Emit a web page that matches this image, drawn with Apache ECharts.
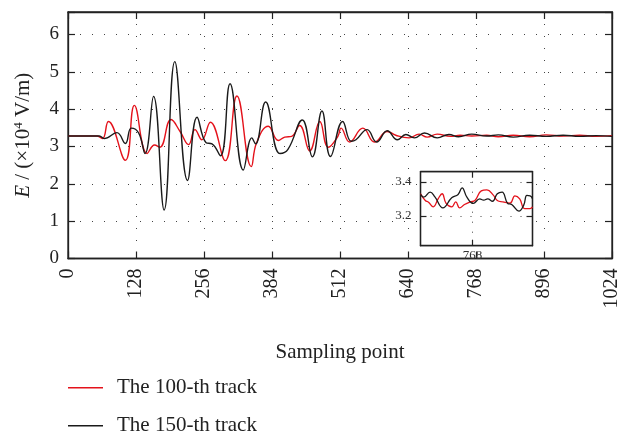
<!DOCTYPE html>
<html>
<head>
<meta charset="utf-8">
<script src="https://cdn.jsdelivr.net/npm/echarts@6/dist/echarts.min.js"></script>
<style>
html,body{margin:0;padding:0;background:#fff;}
#chart{width:622px;height:434px;}
</style>
</head>
<body>
<div id="chart"></div>
<script>
// ---- data ----
var xTicks = [0, 128, 256, 384, 512, 640, 768, 896, 1024];
var yTicks = [0, 1, 2, 3, 4, 5, 6];
var seriesNames = ['The 100-th track', 'The 150-th track'];

var redX = [0, 55, 65, 76, 108, 125, 149, 163, 173, 194, 211, 227, 239, 252, 268, 296, 318, 345, 355, 377, 396, 408, 421, 436, 455, 474, 490, 508, 514, 530, 555, 577, 601, 617, 642, 661, 676, 695, 720, 738, 760, 788, 810, 838, 869, 900, 932, 963, 994, 1024];
var redY = [3.28, 3.28, 3.21, 3.67, 2.63, 4.10, 2.81, 3.04, 2.98, 3.72, 3.40, 3.05, 3.45, 3.18, 3.65, 2.62, 4.35, 2.46, 3.10, 3.54, 3.16, 3.25, 3.27, 3.56, 2.88, 3.67, 2.98, 3.27, 3.49, 3.12, 3.49, 3.12, 3.40, 3.30, 3.23, 3.33, 3.25, 3.33, 3.27, 3.30, 3.28, 3.30, 3.26, 3.30, 3.26, 3.31, 3.28, 3.30, 3.27, 3.29];

var blackX = [0, 59, 68, 92, 108, 119, 133, 145, 161, 181, 201, 225, 243, 260, 271, 287, 305, 330, 346, 353, 372, 399, 414, 441, 460, 478, 494, 517, 533, 542, 563, 581, 601, 620, 636, 652, 671, 695, 717, 735, 760, 788, 810, 838, 869, 900, 932, 963, 994, 1024];
var blackY = [3.28, 3.28, 3.21, 3.37, 3.08, 3.49, 3.36, 2.81, 4.34, 1.30, 5.27, 2.09, 3.78, 3.10, 3.07, 2.75, 4.68, 2.37, 3.23, 3.07, 4.19, 2.81, 2.92, 3.71, 2.72, 3.95, 2.73, 3.67, 3.14, 3.18, 3.45, 3.12, 3.42, 3.18, 3.32, 3.23, 3.36, 3.23, 3.32, 3.26, 3.33, 3.28, 3.31, 3.25, 3.30, 3.27, 3.30, 3.27, 3.29, 3.27];

// inset (zoom around sample 768)
var insetXTicks = [768];
var insetYTicks = [3.2, 3.4];
var insetRedX = [703, 709, 713, 719, 725, 730, 735, 742, 747, 752, 758, 765, 771, 779, 786, 794, 799, 806, 815, 821, 827, 833, 840, 843];
var insetRedY = [3.33, 3.29, 3.28, 3.253, 3.30, 3.33, 3.273, 3.253, 3.282, 3.247, 3.267, 3.282, 3.29, 3.347, 3.353, 3.322, 3.29, 3.282, 3.275, 3.318, 3.30, 3.243, 3.243, 3.253];
var insetBlackX = [703, 707, 715, 721, 731, 742, 750, 755, 761, 769, 777, 782, 787, 793, 799, 805, 812, 817, 826, 832, 836, 840, 843];
var insetBlackY = [3.326, 3.31, 3.34, 3.312, 3.247, 3.306, 3.326, 3.365, 3.31, 3.273, 3.30, 3.292, 3.30, 3.286, 3.33, 3.34, 3.273, 3.267, 3.228, 3.263, 3.32, 3.318, 3.30];

function pairs(xs, ys) { return xs.map(function (x, i) { return [x, ys[i]]; }); }

var FONT = '"Liberation Serif", "DejaVu Serif", serif';
var RED = '#e4121b';
var BLACK = '#1a1a1a';
var dotted = { color: '#444', width: 1, type: [1, 11] };

var chart = echarts.init(document.getElementById('chart'), null, { renderer: 'canvas' });

function legendAt(name, top) {
  return {
    orient: 'vertical',
    left: 68,
    top: top,
    padding: 0,
    itemWidth: 35,
    itemHeight: 1.5,
    icon: 'rect',
    textStyle: { fontFamily: FONT, fontSize: 21, color: '#222', lineHeight: 22, padding: [0, 0, 0, 9] },
    data: [name]
  };
}

var option = {
  animation: false,
  backgroundColor: '#fff',
  textStyle: { fontFamily: FONT },
  grid: [
    { left: 68, right: 6, top: 12, height: 246.5, show: true, borderColor: '#222', borderWidth: 1.3, backgroundColor: 'transparent', containLabel: false },
    { left: 420.5, top: 171.7, width: 112, height: 74, show: true, borderColor: '#222', borderWidth: 1.3, backgroundColor: '#fff', z: 5, containLabel: false }
  ],
  legend: [legendAt(seriesNames[0], 376.7), legendAt(seriesNames[1], 414.7)],
  xAxis: [
    {
      gridIndex: 0, type: 'value', min: xTicks[0], max: xTicks[xTicks.length - 1], interval: 128,
      position: 'bottom',
      name: 'Sampling point', nameLocation: 'middle', nameGap: 83,
      nameTextStyle: { fontFamily: FONT, fontSize: 21, color: '#222' },
      axisLine: { show: true, onZero: false, lineStyle: { color: '#222', width: 1.3 } },
      axisTick: { show: true, inside: true, length: 7, lineStyle: { color: '#222', width: 1.2 } },
      axisLabel: { rotate: 90, margin: 10, fontSize: 20, color: '#222', fontFamily: FONT, showMinLabel: true, showMaxLabel: true,
        formatter: function (v) { return String(v); } },
      splitLine: { show: true, lineStyle: dotted }
    },
    {
      gridIndex: 0, type: 'value', min: xTicks[0], max: xTicks[xTicks.length - 1], interval: 128,
      position: 'top',
      axisLine: { show: true, onZero: false, lineStyle: { color: '#222', width: 1.3 } },
      axisTick: { show: true, inside: true, length: 7, lineStyle: { color: '#222', width: 1.2 } },
      axisLabel: { show: false },
      splitLine: { show: false }
    },
    {
      gridIndex: 1, type: 'value', min: 703, max: 843, z: 6,
      position: 'bottom',
      axisLine: { show: true, onZero: false, lineStyle: { color: '#222', width: 1.3 } },
      axisTick: { show: true, inside: true, length: 6, customValues: insetXTicks, lineStyle: { color: '#222', width: 1.2 } },
      axisLabel: { show: true, margin: 3, fontSize: 13, color: '#333', fontFamily: FONT, customValues: insetXTicks,
        formatter: function (v) { return String(v); } },
      splitLine: { show: true, lineStyle: { color: '#444', width: 1, type: [1, 9] } }
    },
    {
      gridIndex: 1, type: 'value', min: 703, max: 843, z: 6,
      position: 'top',
      axisLine: { show: true, onZero: false, lineStyle: { color: '#222', width: 1.3 } },
      axisTick: { show: true, inside: true, length: 6, customValues: insetXTicks, lineStyle: { color: '#222', width: 1.2 } },
      axisLabel: { show: false },
      splitLine: { show: false }
    }
  ],
  yAxis: [
    {
      gridIndex: 0, type: 'value', min: yTicks[0], max: 6.6, interval: 1,
      position: 'left',
      name: '{i|E} / (\u00d710{sup|4} V/m)', nameLocation: 'middle', nameGap: 34,
      nameTextStyle: {
        fontFamily: FONT, fontSize: 21, color: '#222',
        rich: {
          i: { fontFamily: FONT, fontSize: 21, fontStyle: 'italic', color: '#222' },
          sup: { fontFamily: FONT, fontSize: 13, color: '#222', padding: [0, 0, 9, 0] }
        }
      },
      axisLine: { show: true, onZero: false, lineStyle: { color: '#222', width: 1.3 } },
      axisTick: { show: true, inside: true, length: 7, lineStyle: { color: '#222', width: 1.2 } },
      axisLabel: {
        margin: 9, fontSize: 19, color: '#222', fontFamily: FONT,
        formatter: function (v) { return yTicks.indexOf(v) >= 0 ? String(v) : ''; }
      },
      splitLine: { show: true, lineStyle: dotted }
    },
    {
      gridIndex: 0, type: 'value', min: yTicks[0], max: 6.6, interval: 1,
      position: 'right',
      axisLine: { show: true, onZero: false, lineStyle: { color: '#222', width: 1.3 } },
      axisTick: { show: true, inside: true, length: 7, lineStyle: { color: '#222', width: 1.2 } },
      axisLabel: { show: false },
      splitLine: { show: false }
    },
    {
      gridIndex: 1, type: 'value', min: 3.024, max: 3.46, z: 6,
      position: 'left',
      axisLine: { show: true, onZero: false, lineStyle: { color: '#222', width: 1.3 } },
      axisTick: { show: true, inside: true, length: 6, customValues: insetYTicks, lineStyle: { color: '#222', width: 1.2 } },
      axisLabel: { show: true, margin: 9, fontSize: 13, color: '#333', fontFamily: FONT, customValues: insetYTicks,
        formatter: function (v) { return v.toFixed(1); } },
      splitLine: { show: true, lineStyle: { color: '#444', width: 1, type: [1, 9] } }
    },
    {
      gridIndex: 1, type: 'value', min: 3.024, max: 3.46, z: 6,
      position: 'right',
      axisLine: { show: true, onZero: false, lineStyle: { color: '#222', width: 1.3 } },
      axisTick: { show: true, inside: true, length: 6, customValues: insetYTicks, lineStyle: { color: '#222', width: 1.2 } },
      axisLabel: { show: false },
      splitLine: { show: false }
    }
  ],
  series: [
    {
      name: seriesNames[0], type: 'line', xAxisIndex: 0, yAxisIndex: 0,
      data: pairs(redX, redY), smooth: 0.45, symbol: 'none',
      lineStyle: { color: RED, width: 1.4 }, itemStyle: { color: RED }, z: 2
    },
    {
      name: seriesNames[1], type: 'line', xAxisIndex: 0, yAxisIndex: 0,
      data: pairs(blackX, blackY), smooth: 0.45, symbol: 'none',
      lineStyle: { color: BLACK, width: 1.4 }, itemStyle: { color: BLACK }, z: 3
    },
    {
      name: seriesNames[0], type: 'line', xAxisIndex: 2, yAxisIndex: 2,
      data: pairs(insetRedX, insetRedY), smooth: 0.45, symbol: 'none',
      lineStyle: { color: RED, width: 1.3 }, itemStyle: { color: RED }, z: 7
    },
    {
      name: seriesNames[1], type: 'line', xAxisIndex: 2, yAxisIndex: 2,
      data: pairs(insetBlackX, insetBlackY), smooth: 0.45, symbol: 'none',
      lineStyle: { color: BLACK, width: 1.3 }, itemStyle: { color: BLACK }, z: 8
    }
  ]
};
chart.setOption(option);
</script>
</body>
</html>
